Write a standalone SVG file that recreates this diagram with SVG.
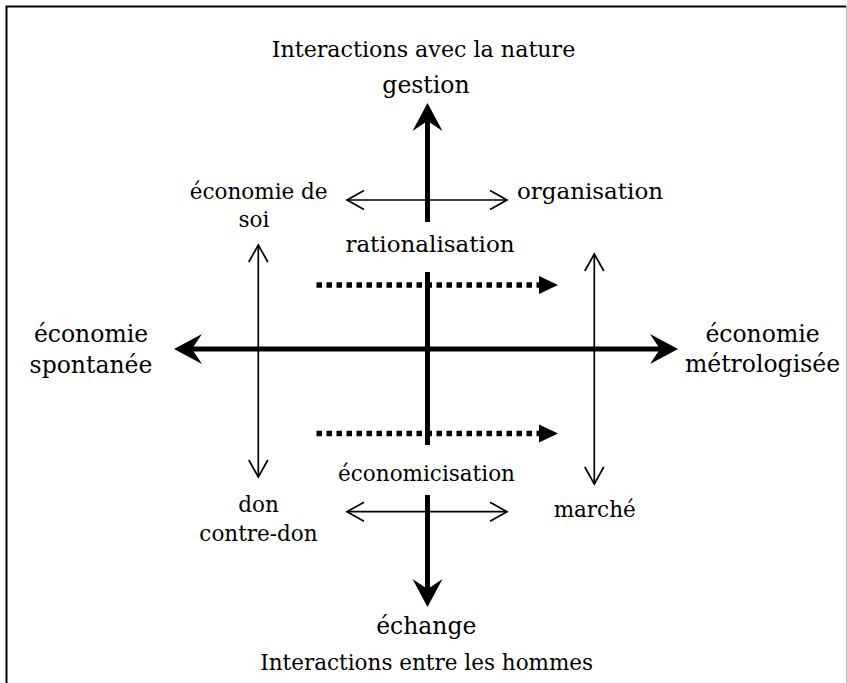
<svg xmlns="http://www.w3.org/2000/svg" width="847" height="683" viewBox="0 0 847 683">
  <style>
    text { font-family: "DejaVu Serif", "Liberation Serif", serif; fill: #000; text-anchor: middle; }
    .s { font-size: 21.5px; }
    .m { font-size: 23.5px; }
    .thick { stroke: #000; stroke-width: 5; fill: none; }
    .thin { stroke: #000; stroke-width: 1.7; fill: none; }
    .dot { stroke: #000; stroke-width: 5.5; fill: none; stroke-dasharray: 5.5 4.5; }
  </style>
  <defs>
    <marker id="big" markerUnits="userSpaceOnUse" viewBox="-12 -16 32 32" refX="0" refY="0" markerWidth="32" markerHeight="32" orient="auto-start-reverse">
      <path d="M18,0 L-10,-15 L0,0 L-10,15 Z" fill="#000"/>
    </marker>
    <marker id="chev" markerUnits="userSpaceOnUse" viewBox="-20 -12 24 24" refX="0" refY="0" markerWidth="24" markerHeight="24" orient="auto-start-reverse">
      <path d="M-17,-9.5 L0,0 L-17,9.5" fill="none" stroke="#000" stroke-width="1.7"/>
    </marker>
    <marker id="tri" markerUnits="userSpaceOnUse" viewBox="-2 -11 24 22" refX="0" refY="0" markerWidth="24" markerHeight="22" orient="auto">
      <path d="M0,-9 L19,0 L0,9 Z" fill="#000"/>
    </marker>
  </defs>

  <g id="frame">
    <path d="M6.5 700 V6.5 H846" fill="none" stroke="#000" stroke-width="2"/>
    <line x1="846.5" y1="6" x2="846.5" y2="700" stroke="#b8b8b8" stroke-width="1"/>
  </g>

  <g id="connectors">
    <!-- main horizontal axis -->
    <line class="thick" x1="192" y1="349" x2="660" y2="349" marker-start="url(#big)" marker-end="url(#big)"/>
    <!-- vertical axis segments -->
    <line class="thick" x1="427.5" y1="222" x2="427.5" y2="121" marker-end="url(#big)"/>
    <line class="thick" x1="427.5" y1="272" x2="427.5" y2="445"/>
    <line class="thick" x1="427.5" y1="495" x2="427.5" y2="589" marker-end="url(#big)"/>
    <!-- thin vertical double arrows -->
    <line class="thin" x1="258.3" y1="245" x2="258.3" y2="477" marker-start="url(#chev)" marker-end="url(#chev)"/>
    <line class="thin" x1="594.3" y1="254" x2="594.3" y2="484" marker-start="url(#chev)" marker-end="url(#chev)"/>
    <!-- thin horizontal double arrows -->
    <line class="thin" x1="347" y1="200" x2="507" y2="200" marker-start="url(#chev)" marker-end="url(#chev)"/>
    <line class="thin" x1="347" y1="511.7" x2="507" y2="511.7" marker-start="url(#chev)" marker-end="url(#chev)"/>
    <!-- dotted arrows -->
    <line class="dot" x1="316.5" y1="285" x2="539" y2="285" marker-end="url(#tri)"/>
    <line class="dot" x1="316.5" y1="433.5" x2="539" y2="433.5" marker-end="url(#tri)"/>
  </g>

  <g id="title-top"><text class="s" x="423.5" y="57" style="font-size:22.2px">Interactions avec la nature</text></g>
  <g id="gestion"><text class="m" x="426" y="93">gestion</text></g>
  <g id="economie-de-soi"><text class="s" y="199"><tspan x="258.7">économie de</tspan><tspan x="254" y="227">soi</tspan></text></g>
  <g id="organisation"><text class="s" x="590" y="199" style="font-size:23px">organisation</text></g>
  <g id="rationalisation"><text class="s" x="430" y="252" style="font-size:23px">rationalisation</text></g>
  <g id="economie-spontanee"><text class="m" y="342"><tspan x="91">économie</tspan><tspan x="91" y="372.5">spontanée</tspan></text></g>
  <g id="economie-metrologisee"><text class="m" y="342"><tspan x="762.5">économie</tspan><tspan x="762.5" y="372">métrologisée</tspan></text></g>
  <g id="economicisation"><text class="s" x="426.5" y="481">économicisation</text></g>
  <g id="don-contre-don"><text class="s" y="512"><tspan x="258.5">don</tspan><tspan x="258.5" y="541">contre-don</tspan></text></g>
  <g id="marche"><text class="s" x="594.7" y="517">marché</text></g>
  <g id="echange"><text class="m" x="426.3" y="634">échange</text></g>
  <g id="title-bottom"><text class="s" x="426.7" y="670">Interactions entre les hommes</text></g>
</svg>
